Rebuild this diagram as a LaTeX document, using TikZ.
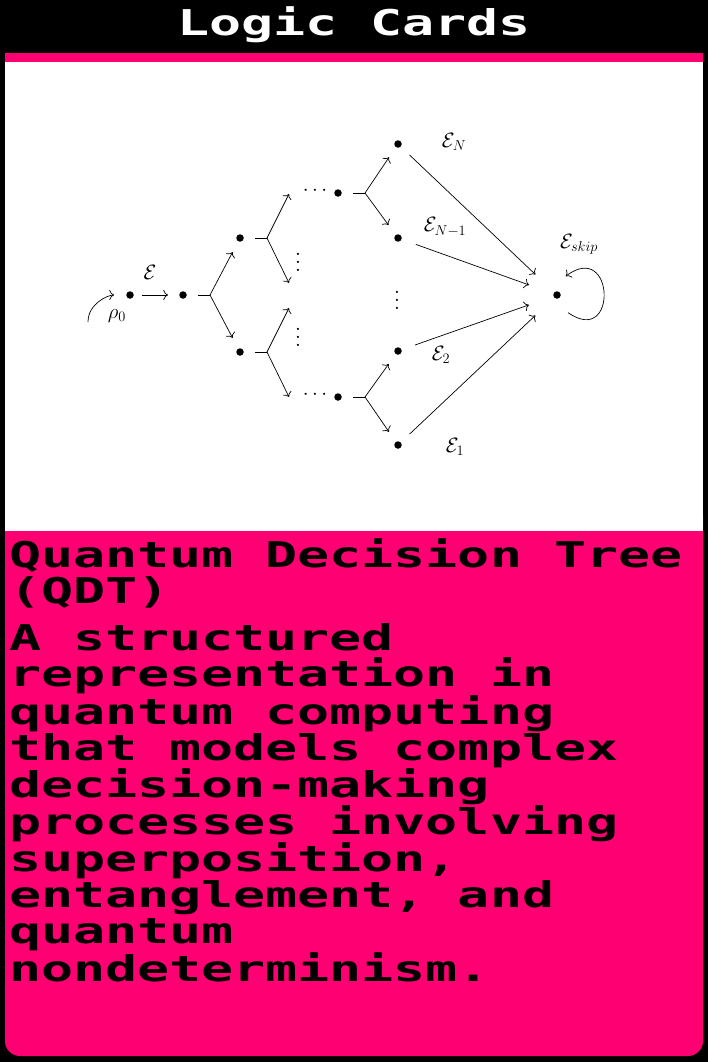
\documentclass[tikz,border=0pt]{standalone}
\usepackage{fontspec}
\usepackage{tikz}
\usetikzlibrary{arrows.meta,positioning,calc}

\newfontfamily\pixelfont[FakeStretch=1.5]{DejaVu Sans Mono Bold}
\definecolor{cardpink}{HTML}{FF0072}

\begin{document}
\begin{tikzpicture}[
    x=1pt, y=-1pt,
    dot/.style={circle, fill, inner sep=0pt, minimum size=7.5pt},
    arrow/.style={-{To[scale=1.5]}, line width=0.7pt},
    stem/.style={line width=0.7pt},
    lbl/.style={font=\huge, inner sep=0pt},
    cardtext/.style={font=\pixelfont\fontsize{35.5}{36}\selectfont, anchor=base west, align=left, inner sep=0pt}
]
\useasboundingbox (0,0) rectangle (708,1062);

% card frame
\fill[black] (0,0) rectangle (708,1062);
\fill[cardpink, rounded corners=15pt] (5,500) rectangle (703,1056);
\fill[cardpink] (5,53) rectangle (703,62);
\fill[white] (5,62) rectangle (703,531);

% texts (base anchor = last line)
\node[cardtext, white, anchor=base] (header) at (354,36) {Logic Cards};
\node[cardtext] (title) at (9,603) {Quantum Decision Tree\\(QDT)};
\node[cardtext] (desc) at (9,981) {A structured\\representation in\\quantum computing\\that models complex\\decision-making\\processes involving\\superposition,\\entanglement, and\\quantum\\nondeterminism.};

% tree
\node[dot] (r0) at (130,295) {};
\node[dot] (r1) at (183,295) {};
\node[dot] (a) at (240,238) {};
\node[dot] (b) at (240,352) {};
\node[dot] (c) at (338,193) {};
\node[dot] (d) at (338,397) {};
\node[dot] (lN) at (398,144) {};
\node[dot] (lN1) at (398,238) {};
\node[dot] (l2) at (398,351) {};
\node[dot] (l1) at (398,445) {};
\node[dot, outer sep=17pt] (sink) at (557,295) {};

\coordinate (start) at (88,322);
\coordinate (f1) at ($(r1)+(27,0)$);
\coordinate (fa) at ($(a)+(27,0)$);
\coordinate (fb) at ($(b)+(27,0)$);
\coordinate (fc) at ($(c)+(27,0)$);
\coordinate (fd) at ($(d)+(27,0)$);
\coordinate (pa1) at (289,194);
\coordinate (pa2) at (289,283);
\coordinate (pb1) at (289,308);
\coordinate (pb2) at (289,397);

\node[lbl] (rho) at (117,316) {$\rho_0$};
\node[lbl] (e0) at (150,272) {$\mathcal{E}$};
\node[lbl] (hdots1) at (315,191) {$\cdots$};
\node[lbl] (hdots2) at (315,395) {$\cdots$};
\node[inner sep=0pt] (vdots1) at (298,256) {\scalebox{2.1}{$\vdots$}};
\node[inner sep=0pt] (vdots2) at (298,331) {\scalebox{2.1}{$\vdots$}};
\node[inner sep=0pt] (vdots3) at (397,294) {\scalebox{2.1}{$\vdots$}};
\node[lbl] (eN) at (454,142) {$\mathcal{E}_N$};
\node[lbl] (eN1) at (445,227) {$\mathcal{E}_{N-1}$};
\node[lbl] (e2) at (441,355) {$\mathcal{E}_2$};
\node[lbl] (e1) at (455,447) {$\mathcal{E}_1$};
\node[lbl] (eskip) at (579,244) {$\mathcal{E}_{skip}$};

\draw[arrow, shorten >=12pt] (start) to[out=90, in=180] (r0);
\draw[arrow, shorten <=8pt, shorten >=11pt] (r0) -- (r1);

\draw[stem, shorten <=11pt] (r1) -- (f1);
\draw[arrow, shorten >=12pt] (f1) -- (a);
\draw[arrow, shorten >=12pt] (f1) -- (b);

\draw[stem, shorten <=11pt] (a) -- (fa);
\draw[arrow] (fa) -- (pa1);
\draw[arrow] (fa) -- (pa2);
\draw[stem, shorten <=11pt] (b) -- (fb);
\draw[arrow] (fb) -- (pb1);
\draw[arrow] (fb) -- (pb2);

\draw[stem, shorten <=11pt] (c) -- (fc);
\draw[arrow, shorten >=12pt] (fc) -- (lN);
\draw[arrow, shorten >=12pt] (fc) -- (lN1);
\draw[stem, shorten <=11pt] (d) -- (fd);
\draw[arrow, shorten >=12pt] (fd) -- (l2);
\draw[arrow, shorten >=12pt] (fd) -- (l1);

\draw[arrow, shorten <=12pt, shorten >=9pt] (lN) -- (sink);
\draw[arrow, shorten <=15pt, shorten >=9pt] (lN1) -- (sink);
\draw[arrow, shorten <=14pt, shorten >=9pt] (l2) -- (sink);
\draw[arrow, shorten <=12pt, shorten >=9pt] (l1) -- (sink);
\draw[arrow] (sink.-58) to[out=-35, in=37, looseness=4.3] (sink.65);

\end{tikzpicture}
\end{document}
